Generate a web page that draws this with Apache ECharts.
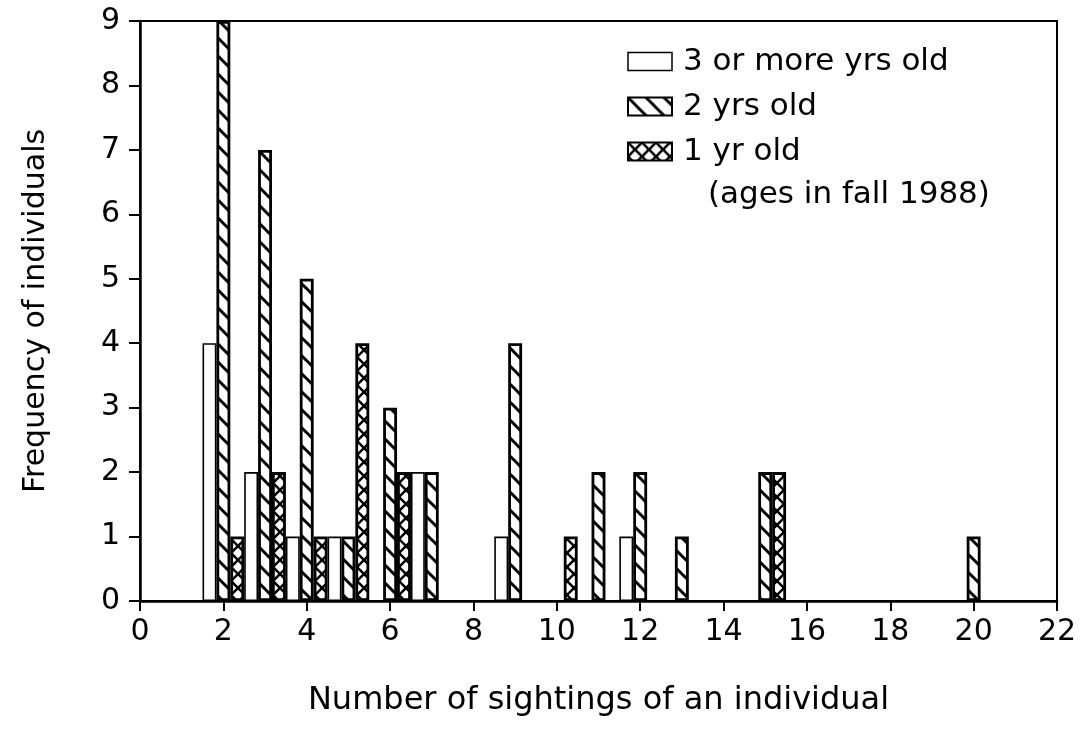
<!DOCTYPE html>
<html>
<head>
<meta charset="utf-8">
<script src="https://cdn.jsdelivr.net/npm/echarts@6/dist/echarts.min.js"></script>
<style>
html,body{margin:0;padding:0;background:#fff;}
#chart{width:1081px;height:745px;}
</style>
</head>
<body>
<div id="chart"></div>
<script>
// Data
var sightings = [2, 3, 4, 5, 6, 7, 9, 10, 11, 12, 13, 15, 20];
var age3plus  = [4, 2, 1, 1, 0, 2, 1, 0, 0, 1, 0, 0, 0];
var age2      = [9, 7, 5, 1, 3, 2, 4, 0, 2, 2, 1, 2, 1];
var age1      = [1, 2, 1, 4, 2, 0, 0, 1, 0, 0, 0, 2, 0];
var seriesNames = ['3 or more yrs old', '2 yrs old', '1 yr old'];
var xTicks = [0, 2, 4, 6, 8, 10, 12, 14, 16, 18, 20, 22];
var yTicks = [0, 1, 2, 3, 4, 5, 6, 7, 8, 9];
var legendNote = '(ages in fall 1988)';

var FONT = 'DejaVu Sans';

function pairs(vals) {
  var out = [];
  for (var i = 0; i < sightings.length; i++) {
    if (vals[i] > 0) out.push([sightings[i], vals[i]]);
  }
  return out;
}

function makePattern(s, lw, cross) {
  var c = document.createElement('canvas');
  c.width = s; c.height = s;
  var g = c.getContext('2d');
  g.fillStyle = '#fff';
  g.fillRect(0, 0, s, s);
  g.strokeStyle = '#000';
  g.lineWidth = lw;
  g.lineCap = 'square';
  for (var k = -1; k <= 1; k++) {
    var x0 = k * s;
    g.beginPath();
    g.moveTo(x0 - 2, -2);
    g.lineTo(x0 + s + 2, s + 2);
    g.stroke();
    if (cross) {
      g.beginPath();
      g.moveTo(x0 + s + 2, -2);
      g.lineTo(x0 - 2, s + 2);
      g.stroke();
    }
  }
  return c;
}

var hatchImg = makePattern(18, 3, false);
var crossImg = makePattern(14, 2.5, true);

var chart = echarts.init(document.getElementById('chart'), null, {renderer: 'canvas'});

var option = {
  animation: false,
  backgroundColor: '#fff',
  grid: {
    left: 140, right: 24, top: 21, bottom: 144,
    show: true, borderColor: '#000', borderWidth: 2, backgroundColor: 'transparent'
  },
  legend: {
    orient: 'vertical',
    left: 622, top: 41,
    itemWidth: 44, itemHeight: 18,
    itemGap: 14,
    icon: 'rect',
    textStyle: {fontSize: 31, fontFamily: FONT, color: '#000', padding: [0, 0, 0, 6], lineHeight: 31},
    data: [
      {name: seriesNames[0], itemStyle: {borderWidth: 1.5}},
      {name: seriesNames[1], itemStyle: {borderWidth: 2}},
      {name: seriesNames[2], itemStyle: {borderWidth: 2}}
    ]
  },
  graphic: [{
    type: 'text', left: 708, top: 179,
    style: {text: legendNote, font: '31px "' + FONT + '"', fill: '#000'}
  }],
  xAxis: {
    type: 'value', min: xTicks[0], max: xTicks[xTicks.length - 1], interval: 2,
    name: 'Number of sightings of an individual',
    nameLocation: 'middle', nameGap: 84,
    nameTextStyle: {fontSize: 32, fontFamily: FONT, color: '#000'},
    axisLine: {show: true, onZero: false, lineStyle: {color: '#000', width: 2.5}},
    axisTick: {show: true, length: 10, lineStyle: {color: '#000', width: 2}},
    axisLabel: {fontSize: 30, fontFamily: FONT, color: '#000', margin: 16},
    splitLine: {show: false}
  },
  yAxis: {
    type: 'value', min: yTicks[0], max: yTicks[yTicks.length - 1], interval: 1,
    name: 'Frequency of individuals',
    nameLocation: 'middle', nameGap: 89,
    nameTextStyle: {fontSize: 30, fontFamily: FONT, color: '#000'},
    axisLine: {show: true, lineStyle: {color: '#000', width: 2.5}},
    axisTick: {show: true, length: 11, lineStyle: {color: '#000', width: 2}},
    axisLabel: {fontSize: 30, fontFamily: FONT, color: '#000', margin: 20},
    splitLine: {show: false}
  },
  series: [
    {
      name: seriesNames[0], type: 'bar', data: pairs(age3plus),
      barWidth: 13.9, barGap: '0%',
      itemStyle: {color: '#fff', borderColor: '#000', borderWidth: 1.6}
    },
    {
      name: seriesNames[1], type: 'bar', data: pairs(age2),
      barWidth: 13.9, barGap: '0%',
      itemStyle: {color: {image: hatchImg, repeat: 'repeat'}, borderColor: '#000', borderWidth: 2.8}
    },
    {
      name: seriesNames[2], type: 'bar', data: pairs(age1),
      barWidth: 13.9, barGap: '0%',
      itemStyle: {color: {image: crossImg, repeat: 'repeat'}, borderColor: '#000', borderWidth: 2.8}
    }
  ]
};
chart.setOption(option);
</script>
</body>
</html>
